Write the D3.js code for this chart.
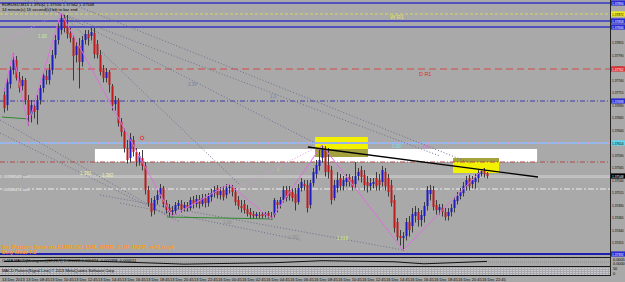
<!DOCTYPE html>
<html>
<head>
<meta charset="utf-8">
<script src="https://cdn.jsdelivr.net/npm/d3@7"></script>
<style>
  body { margin: 0; background: #a9a9a9; }
  svg { display: block; }
  text { font-family: "Liberation Sans", Arial, sans-serif; }
</style>
</head>
<body>
<div id="chart"></div>
<script>
/* DATA */
// EURUSD M15 bars: [open, high, low, close]
const bars = [
  [1.37710,1.37724,1.37676,1.37684],[1.37690,1.37744,1.37680,1.37736],[1.37732,1.37768,1.37724,1.37760],[1.37760,1.37794,1.37752,1.37780],
  [1.37780,1.37788,1.37740,1.37744],[1.37744,1.37756,1.37716,1.37724],[1.37728,1.37748,1.37720,1.37740],[1.37740,1.37744,1.37692,1.37700],
  [1.37700,1.37710,1.37650,1.37670],[1.37672,1.37700,1.37656,1.37690],[1.37688,1.37700,1.37664,1.37676],[1.37680,1.37710,1.37652,1.37700],
  [1.37700,1.37730,1.37692,1.37724],[1.37724,1.37756,1.37716,1.37750],[1.37748,1.37760,1.37732,1.37740],[1.37740,1.37772,1.37732,1.37760],
  [1.37760,1.37800,1.37752,1.37790],[1.37790,1.37830,1.37784,1.37820],[1.37820,1.37856,1.37812,1.37844],[1.37840,1.37874,1.37832,1.37864],
  [1.37864,1.37870,1.37836,1.37844],[1.37848,1.37870,1.37824,1.37832],[1.37834,1.37844,1.37816,1.37824],[1.37824,1.37830,1.37740,1.37788],
  [1.37790,1.37816,1.37776,1.37808],[1.37808,1.37824,1.37724,1.37776],[1.37776,1.37828,1.37768,1.37820],[1.37820,1.37840,1.37812,1.37832],
  [1.37832,1.37840,1.37810,1.37824],[1.37828,1.37844,1.37820,1.37836],[1.37834,1.37844,1.37784,1.37792],[1.37812,1.37820,1.37784,1.37790],
  [1.37790,1.37800,1.37750,1.37756],[1.37760,1.37770,1.37736,1.37744],[1.37744,1.37764,1.37736,1.37756],[1.37756,1.37760,1.37716,1.37730],
  [1.37728,1.37732,1.37680,1.37690],[1.37692,1.37708,1.37680,1.37700],[1.37700,1.37704,1.37648,1.37654],[1.37656,1.37664,1.37628,1.37636],
  [1.37636,1.37644,1.37596,1.37604],[1.37604,1.37620,1.37574,1.37580],[1.37584,1.37634,1.37576,1.37624],[1.37620,1.37628,1.37588,1.37596],
  [1.37596,1.37604,1.37568,1.37576],[1.37576,1.37596,1.37570,1.37588],[1.37584,1.37600,1.37560,1.37568],[1.37568,1.37576,1.37512,1.37520],
  [1.37520,1.37528,1.37488,1.37494],[1.37494,1.37504,1.37468,1.37476],[1.37480,1.37508,1.37472,1.37500],[1.37500,1.37520,1.37492,1.37510],
  [1.37510,1.37532,1.37504,1.37524],[1.37524,1.37528,1.37486,1.37492],[1.37494,1.37500,1.37474,1.37480],[1.37484,1.37492,1.37468,1.37476],
  [1.37476,1.37488,1.37468,1.37480],[1.37478,1.37496,1.37472,1.37490],[1.37488,1.37500,1.37482,1.37494],[1.37492,1.37500,1.37476,1.37482],
  [1.37484,1.37496,1.37478,1.37490],[1.37490,1.37496,1.37478,1.37484],[1.37484,1.37506,1.37480,1.37500],[1.37500,1.37508,1.37484,1.37492],
  [1.37492,1.37510,1.37486,1.37502],[1.37502,1.37510,1.37484,1.37492],[1.37492,1.37512,1.37488,1.37504],[1.37504,1.37512,1.37486,1.37494],
  [1.37494,1.37514,1.37488,1.37508],[1.37506,1.37522,1.37498,1.37514],[1.37514,1.37528,1.37506,1.37520],[1.37524,1.37530,1.37504,1.37510],
  [1.37510,1.37526,1.37502,1.37518],[1.37520,1.37528,1.37500,1.37506],[1.37510,1.37532,1.37504,1.37524],[1.37524,1.37532,1.37514,1.37526],
  [1.37526,1.37530,1.37508,1.37516],[1.37516,1.37524,1.37490,1.37496],[1.37500,1.37508,1.37482,1.37488],[1.37488,1.37500,1.37476,1.37484],
  [1.37492,1.37500,1.37474,1.37480],[1.37482,1.37490,1.37468,1.37472],[1.37476,1.37484,1.37464,1.37470],[1.37472,1.37478,1.37464,1.37468],
  [1.37468,1.37476,1.37464,1.37472],[1.37470,1.37476,1.37464,1.37468],[1.37472,1.37476,1.37464,1.37468],[1.37470,1.37476,1.37466,1.37472],
  [1.37474,1.37478,1.37464,1.37468],[1.37468,1.37476,1.37462,1.37466],[1.37470,1.37504,1.37466,1.37500],[1.37496,1.37500,1.37476,1.37490],
  [1.37490,1.37506,1.37484,1.37500],[1.37500,1.37528,1.37496,1.37520],[1.37520,1.37528,1.37498,1.37504],[1.37520,1.37528,1.37500,1.37508],
  [1.37516,1.37524,1.37498,1.37504],[1.37512,1.37524,1.37480,1.37494],[1.37496,1.37532,1.37492,1.37524],[1.37524,1.37544,1.37518,1.37536],
  [1.37532,1.37540,1.37520,1.37528],[1.37530,1.37540,1.37476,1.37484],[1.37490,1.37540,1.37484,1.37534],[1.37534,1.37564,1.37528,1.37556],
  [1.37552,1.37580,1.37544,1.37570],[1.37568,1.37600,1.37560,1.37580],[1.37584,1.37610,1.37576,1.37600],[1.37600,1.37608,1.37548,1.37556],
  [1.37570,1.37604,1.37544,1.37556],[1.37560,1.37568,1.37492,1.37500],[1.37504,1.37540,1.37500,1.37530],[1.37524,1.37556,1.37516,1.37540],
  [1.37544,1.37552,1.37520,1.37528],[1.37528,1.37548,1.37520,1.37540],[1.37536,1.37552,1.37528,1.37544],[1.37546,1.37552,1.37528,1.37536],
  [1.37540,1.37548,1.37520,1.37526],[1.37532,1.37576,1.37524,1.37548],[1.37548,1.37564,1.37540,1.37556],[1.37560,1.37568,1.37536,1.37546],
  [1.37550,1.37560,1.37520,1.37530],[1.37536,1.37548,1.37516,1.37528],[1.37528,1.37544,1.37520,1.37534],[1.37532,1.37544,1.37524,1.37536],
  [1.37544,1.37556,1.37520,1.37528],[1.37540,1.37552,1.37520,1.37530],[1.37536,1.37568,1.37528,1.37560],[1.37556,1.37564,1.37520,1.37528],
  [1.37544,1.37552,1.37508,1.37516],[1.37530,1.37540,1.37488,1.37494],[1.37500,1.37510,1.37436,1.37444],[1.37456,1.37464,1.37420,1.37426],
  [1.37428,1.37440,1.37410,1.37424],[1.37424,1.37436,1.37400,1.37428],[1.37428,1.37464,1.37420,1.37456],[1.37456,1.37468,1.37428,1.37440],
  [1.37448,1.37484,1.37436,1.37472],[1.37468,1.37488,1.37456,1.37476],[1.37476,1.37484,1.37448,1.37460],[1.37460,1.37480,1.37448,1.37470],
  [1.37468,1.37496,1.37456,1.37488],[1.37488,1.37528,1.37480,1.37520],[1.37512,1.37530,1.37500,1.37520],[1.37520,1.37528,1.37480,1.37486],
  [1.37490,1.37500,1.37472,1.37480],[1.37480,1.37492,1.37472,1.37486],[1.37484,1.37492,1.37468,1.37476],[1.37476,1.37484,1.37460,1.37466],
  [1.37468,1.37484,1.37460,1.37476],[1.37476,1.37492,1.37468,1.37484],[1.37484,1.37506,1.37476,1.37500],[1.37498,1.37516,1.37492,1.37508],
  [1.37508,1.37524,1.37502,1.37516],[1.37514,1.37536,1.37508,1.37528],[1.37528,1.37548,1.37520,1.37540],[1.37544,1.37550,1.37520,1.37528],
  [1.37532,1.37548,1.37524,1.37540],[1.37536,1.37552,1.37524,1.37544],[1.37544,1.37560,1.37536,1.37554],[1.37552,1.37562,1.37548,1.37558],
  [1.37558,1.37564,1.37546,1.37552],[1.37554,1.37556,1.37544,1.37548]
];

// zigzag swing points: [bar, price]
const zigzag = [[0,1.37716],[3,1.37794],[8,1.37650],[19,1.37874],[56,1.37468],[75,1.37532],[89,1.37462],[106,1.37610],[133,1.37400],[160,1.37564]];

// horizontal levels
const levelKeys   = ['blueA','wR1','blueB','blueC','dR1','navy','pivot','darkRed','bid','sell2','blueD'];
const levelPrices = [1.37894,1.37872,1.37858,1.37846,1.37762,1.37698,1.37614,1.37576,1.37548,1.37522,1.37392];

// trend lines [bar1, price1, bar2, price2]
const fanLines = [
  [19.3,1.37900,155.3,1.37574],[7,1.37900,145.3,1.37588],[10,1.37900,103.7,1.37614],[19,1.37874,78.7,1.37530],
  [-1.3,1.37660,56,1.37464],[-1.3,1.37634,58.7,1.37456],[32,1.37510,133,1.37400],[38.7,1.37494,98.7,1.37420]
];
const pinkLines = [[0,1.37818,19,1.37874],[56,1.37456,103.7,1.37604]];
const greenLines = [[-0.7,1.37666,8.3,1.37662],[54.3,1.37466,89.7,1.37462]];
const blackTrend = [101.3,1.37606,178,1.37546];

// zones [bar1, bar2, priceTop, priceBottom]
const whiteZone = [30.3,177.7,1.37602,1.37576];
const yellowZones = [[103.7,121.3,1.37626,1.37586],[149.7,165,1.37584,1.37554]];

// text marks [bar, price, text]
const fiboTexts = [[11.3,1.37828,'1.00'],[61.3,1.37732,'2.34'],[88.7,1.37708,'1.0'],[25.3,1.37554,'1.382'],[32.7,1.37550,'1.382'],
  [73,1.37456,'1.00'],[94.7,1.37426,'1.382'],[111,1.37424,'1.618'],[129.3,1.37608,'2.00'],[139.7,1.37606,'PP'],[128.7,1.37866,'W R1'],[138.3,1.37752,'D R1']];
const orderTexts = [[1.37548,'#0598549 sell'],[1.37522,'#0598474 sell']];

const priceTicks = [1.37815,1.37790,1.37765,1.37740,1.37715,1.37690,1.37665,1.37640,1.37615,1.37590,1.37565,1.37540,1.37515,1.37490,1.37465,1.37440,1.37415];
const timeLabels = ['13 Dec 2013','13 Dec 08:45','13 Dec 10:45','13 Dec 12:45','13 Dec 14:45','13 Dec 16:45','13 Dec 18:45','13 Dec 20:45','13 Dec 22:45',
  '16 Dec 00:45','16 Dec 02:45','16 Dec 04:45','16 Dec 06:45','16 Dec 08:45','16 Dec 10:45','16 Dec 12:45','16 Dec 14:45','16 Dec 16:45',
  '16 Dec 18:45','16 Dec 20:45','16 Dec 22:45'];
const macdPoints = [[0,0.00008],[20,0.00030],[45,-0.00010],[60,-0.00035],[90,-0.00012],[106,0.00022],[130,0.00004],[140,-0.00030],[161,0.00010]];

/* SETUP */
const W = 625, H = 282;
const plotRight = 610, mainBottom = 257;
const svg = d3.select('#chart').append('svg').attr('width', W).attr('height', H);
svg.append('rect').attr('width', W).attr('height', H).attr('fill', '#a9a9a9');

const defs = svg.append('defs');
defs.append('clipPath').attr('id', 'clipMain').append('rect').attr('width', plotRight).attr('height', mainBottom);
const pat = defs.append('pattern').attr('id', 'dots').attr('width', 3).attr('height', 2).attr('patternUnits', 'userSpaceOnUse');
pat.append('rect').attr('width', 2).attr('height', 1).attr('fill', '#c9c9d6');

// scales: 3px per bar
const x = d3.scaleLinear().domain([0, 1]).range([4, 7]);
const y = d3.scaleLinear().domain([1.379, 1.37392]).range([0, 254]);

const main = svg.append('g').attr('clip-path', 'url(#clipMain)');

/* ZONES */
const zoneRect = (g, z, fill) => g.append('rect')
  .attr('x', x(z[0])).attr('width', x(z[1]) - x(z[0]))
  .attr('y', y(z[2])).attr('height', y(z[3]) - y(z[2])).attr('fill', fill);
zoneRect(main, whiteZone, '#ffffff');
yellowZones.forEach(z => {
  zoneRect(main, z, '#f2f200');
  // overlap with the white zone shows darker
  const top = Math.min(z[2], whiteZone[2]), bot = Math.max(z[3], whiteZone[3]);
  if (top > bot) zoneRect(main, [z[0], z[1], top, bot], '#a3a23c');
});

/* HORIZONTAL LEVELS */
const levelStyle = {
  blueA:  { stroke: '#3434c8', w: 1.6, dash: null,       tag: '#2a2ad6', tc: '#fff' },
  wR1:    { stroke: '#d8d860', w: 1,   dash: '3,2',      tag: '#eeee20', tc: '#000' },
  blueB:  { stroke: '#3434c8', w: 1.6, dash: null,       tag: '#2a2ad6', tc: '#fff' },
  blueC:  { stroke: '#3434c8', w: 1.6, dash: null,       tag: '#2a2ad6', tc: '#fff' },
  dR1:    { stroke: '#d44848', w: 1,   dash: '7,4',      tag: '#e03030', tc: '#fff' },
  navy:   { stroke: '#3c3ca8', w: 1,   dash: '5,2,1,2',  tag: '#2a2ad6', tc: '#fff' },
  pivot:  { stroke: '#92b8ee', w: 2,   dash: '7,3',      tag: '#5ed8f4', tc: '#000' },
  darkRed:{ stroke: '#b04848', w: 1,   dash: '5,2,1,2',  tag: null },
  bid:    { stroke: '#d4d4d4', w: 1,   dash: null,       tag: '#000000', tc: '#fff' },
  sell2:  { stroke: '#eeeeee', w: 1,   dash: '6,2,2,2',  tag: null },
  blueD:  { stroke: '#1e1eb0', w: 2,   dash: null,       tag: '#2a2ad6', tc: '#fff' }
};
levelKeys.forEach((k, i) => {
  const s = levelStyle[k];
  main.append('line').attr('x1', 0).attr('x2', plotRight)
    .attr('y1', y(levelPrices[i])).attr('y2', y(levelPrices[i]))
    .attr('stroke', s.stroke).attr('stroke-width', s.w)
    .attr('stroke-dasharray', s.dash);
});
// pivot line has pink gaps, bid line is doubled
main.append('line').attr('x1', 0).attr('x2', plotRight)
  .attr('y1', y(levelPrices[6])).attr('y2', y(levelPrices[6]))
  .attr('stroke', '#c8a2cc').attr('stroke-width', 2).attr('stroke-dasharray', '3,7').attr('stroke-dashoffset', -7);
main.append('line').attr('x1', 0).attr('x2', plotRight)
  .attr('y1', y(levelPrices[8]) + 1.5).attr('y2', y(levelPrices[8]) + 1.5)
  .attr('stroke', '#c4c4c4').attr('stroke-width', 1);

/* TREND LINES */
const seg = (g, l, color, w, dash) => g.append('line')
  .attr('x1', x(l[0])).attr('y1', y(l[1])).attr('x2', x(l[2])).attr('y2', y(l[3]))
  .attr('stroke', color).attr('stroke-width', w).attr('stroke-dasharray', dash);
fanLines.forEach(l => seg(main, l, '#6e6e90', 1, '1,2'));
pinkLines.forEach(l => seg(main, l, '#d89ad8', 1, '1,2'));
greenLines.forEach(l => seg(main, l, '#2f8a2f', 1, null));

/* CANDLES */
main.selectAll('line.wick').data(bars).join('line').attr('class', 'wick')
  .attr('x1', (d, i) => x(i) + 0.5).attr('x2', (d, i) => x(i) + 0.5)
  .attr('y1', d => y(d[1])).attr('y2', d => y(d[2]) + 0.5)
  .attr('stroke', '#3c3c3c').attr('stroke-width', 1);
main.selectAll('rect.body').data(bars).join('rect').attr('class', 'body')
  .attr('x', (d, i) => x(i) - 0.5).attr('width', 2)
  .attr('y', d => y(Math.max(d[0], d[3])))
  .attr('height', d => Math.max(1, Math.abs(y(d[0]) - y(d[3]))))
  .attr('fill', d => d[3] >= d[0] ? '#1c1cc0' : '#bc1c1c');

/* ZIGZAG + BLACK TREND */
main.append('path').datum(zigzag)
  .attr('d', d3.line().x(d => x(d[0])).y(d => y(d[1])))
  .attr('fill', 'none').attr('stroke', '#dd6ee0').attr('stroke-width', 1);
seg(main, blackTrend, '#000', 1.4, null);

/* TEXT MARKS */
const fiboColor = { '1.00': '#c4ec98', '2.34': '#7282a6', '1.0': '#7282a6', '1.382': '#f2f0a8', '1.618': '#d2e47e',
  '2.00': '#72e4f2', 'PP': '#e070e0', 'W R1': '#e6e64a', 'D R1': '#dc3030' };
fiboTexts.forEach((t, i) => {
  let c = fiboColor[t[2]];
  if (i === 5 || i === 6) c = '#8e8e8e';
  main.append('text').attr('x', x(t[0])).attr('y', y(t[1]) + 2)
    .attr('font-size', t[2].includes('R1') ? 5.5 : 4.5).attr('fill', c).text(t[2]);
});
main.append('circle').attr('cx', x(46)).attr('cy', y(1.37624)).attr('r', 1.8)
  .attr('fill', 'none').attr('stroke', '#e04040').attr('stroke-width', 0.9);
main.append('text').attr('x', x(91)).attr('y', y(1.37558)).attr('font-size', 4).attr('fill', '#c4e060').text('1');
orderTexts.forEach(t => {
  main.append('rect').attr('x', 2).attr('y', y(t[0]) - 2.5).attr('width', 27).attr('height', 5).attr('fill', '#a9a9a9');
  main.append('text').attr('x', 3).attr('y', y(t[0]) + 1.6).attr('font-size', 4.2).attr('fill', '#f2f2f2').text(t[1]);
});

// header
main.append('text').attr('x', 2).attr('y', 5.5).attr('font-size', 4.2).attr('fill', '#000')
  .text('EURUSD,M15  1.37552 1.37556 1.37542 1.37548');
main.append('text').attr('x', 2).attr('y', 10.5).attr('font-size', 4.2).attr('fill', '#000')
  .text('14 minute(s) 16 second(s) left to bar end');
main.append('text').attr('x', 2).attr('y', 249).attr('font-size', 6).attr('font-weight', 'bold').attr('fill', '#ff9a1a')
  .text('No Pattern Now on EURUSD 15M, WRR_ZUP_INFR_v42.mq4');
main.append('text').attr('x', 2).attr('y', 254).attr('font-size', 5).attr('font-weight', 'bold').attr('fill', '#ff9a1a')
  .text('Dirty Mode 7.8');

/* PRICE AXIS */
// axis labels squeezed into the narrow strip right of the plot
svg.append('line').attr('x1', plotRight + 0.5).attr('x2', plotRight + 0.5).attr('y1', 0).attr('y2', 276)
  .attr('stroke', '#202020');
svg.selectAll('text.ptick').data(priceTicks).join('text').attr('class', 'ptick')
  .attr('x', 612).attr('y', d => y(d) + 1.5).attr('font-size', 4).attr('fill', '#000')
  .attr('textLength', 11.5).attr('lengthAdjust', 'spacingAndGlyphs')
  .text(d => d.toFixed(5));
levelKeys.forEach((k, i) => {
  const s = levelStyle[k];
  if (!s.tag) return;
  const yy = y(levelPrices[i]);
  svg.append('rect').attr('x', 611).attr('y', yy - 2.6).attr('width', 14).attr('height', 5.2).attr('fill', s.tag);
  svg.append('text').attr('x', 612).attr('y', yy + 1.5).attr('font-size', 4).attr('fill', s.tc)
    .attr('textLength', 11.5).attr('lengthAdjust', 'spacingAndGlyphs')
    .text(levelPrices[i].toFixed(5));
});

/* INDICATOR WINDOWS */
[257.5, 266.5, 275.5].forEach(v => svg.append('line').attr('x1', 0).attr('x2', plotRight)
  .attr('y1', v).attr('y2', v).attr('stroke', '#1a1a1a'));
const ym = d3.scaleLinear().domain([-0.0005, 0.0005]).range([265, 259]);
svg.append('line').attr('x1', 0).attr('x2', plotRight).attr('y1', ym(0)).attr('y2', ym(0))
  .attr('stroke', '#8c8c8c').attr('stroke-dasharray', '1,1');
svg.append('path').datum(macdPoints)
  .attr('d', d3.line().x(d => x(d[0])).y(d => ym(d[1])))
  .attr('fill', 'none').attr('stroke', '#111').attr('stroke-width', 1);
svg.append('text').attr('x', 2).attr('y', 262).attr('font-size', 4).attr('fill', '#000')
  .text('OsMA MACD(Histogram)(12,26,9) 0.000026 0.000424 -0.000398 -0.000011');
svg.append('rect').attr('x', 0).attr('y', 267.5).attr('width', plotRight).attr('height', 7.5).attr('fill', 'url(#dots)');
svg.append('text').attr('x', 2).attr('y', 272).attr('font-size', 4).attr('fill', '#000')
  .text('MACD Pattern(Signal Line) © 2013 MetaQuotes Software Corp.');
[['0.0005', 260.5], ['0.0000', 265], ['50', 270], ['0', 274.5]].forEach(t =>
  svg.append('text').attr('x', 613).attr('y', t[1]).attr('font-size', 3.8).attr('fill', '#000').text(t[0]));

/* TIME AXIS */
svg.selectAll('text.ttick').data(timeLabels).join('text').attr('class', 'ttick')
  .attr('x', (d, i) => x(i * 8) - 2).attr('y', 281).attr('font-size', 4).attr('fill', '#000')
  .text(d => d);
</script>
</body>
</html>
